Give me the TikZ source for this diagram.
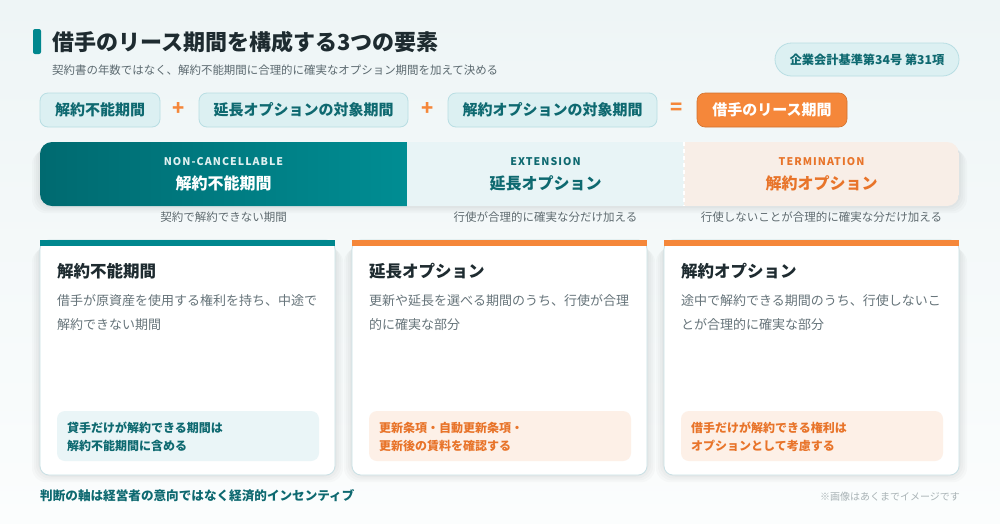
\documentclass[tikz,border=0pt]{standalone}
\usepackage{fontspec}
\setmainfont{Noto Sans CJK JP}
\newfontfamily\latinfont[LetterSpace=10]{Noto Sans CJK JP}
\definecolor{bgtop}{HTML}{EEF5F6}
\definecolor{bgbot}{HTML}{FBFDFD}
\definecolor{tealA}{HTML}{00878E}
\definecolor{tealdark}{HTML}{006A70}
\definecolor{tealbar}{HTML}{008D93}
\definecolor{tealtxt}{HTML}{0E6970}
\definecolor{titlec}{HTML}{1E2B30}
\definecolor{subc}{HTML}{5C6A70}
\definecolor{bodyc}{HTML}{66747A}
\definecolor{chipfill}{HTML}{DCF0F2}
\definecolor{chipline}{HTML}{B8DEE3}
\definecolor{orangeA}{HTML}{F5873A}
\definecolor{orangetxt}{HTML}{E8742A}
\definecolor{barlight}{HTML}{E8F4F6}
\definecolor{barorange}{HTML}{F8EEE7}
\definecolor{cardline}{HTML}{C9E0E5}
\definecolor{innerteal}{HTML}{EAF5F7}
\definecolor{innerorange}{HTML}{FDF0E7}
\definecolor{notec}{HTML}{A9B3B6}
\definecolor{undertxt}{HTML}{5E6A6F}
\begin{document}
\begin{tikzpicture}[x=1pt,y=-1pt,
  chip/.style={draw=chipline, line width=0.8pt, fill=chipfill, rounded corners=8pt,
    minimum height=34pt, inner sep=0pt, text=tealtxt, font=\fontsize{15}{18}\selectfont\bfseries},
  opchip/.style={fill=orangeA, rounded corners=8pt, draw=orangeA!85!black, line width=0.6pt,
    minimum height=34pt, inner sep=0pt, text=white, font=\fontsize{15}{18}\selectfont\bfseries},
  opsign/.style={text=orangeA, font=\fontsize{20}{22}\selectfont\bfseries, inner sep=0pt},
  barsmall/.style={font=\fontsize{10.6}{12}\selectfont\latinfont\bfseries, inner sep=0pt},
  barbig/.style={font=\fontsize{16}{19}\selectfont\bfseries, inner sep=0pt},
  undertext/.style={text=undertxt, font=\fontsize{11.5}{14}\selectfont, inner sep=0pt},
  cardtitle/.style={anchor=west, text=titlec, font=\fontsize{16.5}{20}\selectfont\bfseries, inner sep=0pt},
  cardbody/.style={anchor=west, text=bodyc, font=\fontsize{13}{16}\selectfont, inner sep=0pt},
  cardnote/.style={anchor=west, font=\fontsize{12}{15}\selectfont\bfseries, inner sep=0pt},
  cardbox/.style={draw=cardline, line width=0.8pt, fill=white, rounded corners=9pt},
  softshade/.style={fill=black, opacity=0.018, rounded corners=14pt}
]
\useasboundingbox (0,0) rectangle (1000,523);
\shade[top color=bgtop, bottom color=bgbot] (0,0) rectangle (1000,523);

% title
\fill[tealA, rounded corners=2pt] (33,29) rectangle (41,54);
\node[anchor=west, inner sep=0pt, text=titlec, font=\fontsize{22}{26}\selectfont\bfseries] (title) at (52,42.5) {借手のリース期間を構成する3つの要素};
\node[anchor=west, inner sep=0pt, text=subc, font=\fontsize{11.45}{14}\selectfont] (subtitle) at (52,70) {契約書の年数ではなく、解約不能期間に合理的に確実なオプション期間を加えて決める};

% badge
\node[draw=chipline, line width=0.8pt, fill=chipfill, rounded corners=16.5pt, minimum width=184pt, minimum height=33pt, inner sep=0pt,
  text=tealtxt, font=\fontsize{12.2}{15}\selectfont\bfseries] (badge) at (867,59.5) {企業会計基準第34号 第31項};

% formula row
\node[chip, minimum width=120pt] (f1) at (100,110) {解約不能期間};
\node[opsign] (p1) at (179,109) {+};
\node[chip, minimum width=209pt] (f2) at (303.5,110) {延長オプションの対象期間};
\node[opsign] (p2) at (428,109) {+};
\node[chip, minimum width=209pt] (f3) at (552.5,110) {解約オプションの対象期間};
\node[opsign] (eq) at (677,109) {=};
\node[opchip, minimum width=150pt] (f4) at (772,110) {借手のリース期間};

% bar shadow
\foreach \d in {2,4,6,8}{
  \fill[softshade] (40-\d,142+\d) rectangle (959+\d,206+\d*0.9);
}
\begin{scope}
  \clip[rounded corners=12pt] (40,142) rectangle (959,206);
  \shade[left color=tealdark, right color=tealbar] (40,142) rectangle (407,206);
  \fill[barlight] (407,142) rectangle (684,206);
  \fill[barorange] (684,142) rectangle (959,206);
\end{scope}
\draw[white, line width=1.3pt, dash pattern=on 4pt off 3pt] (684,142) -- (684,206);

\node[barsmall, text=white!88!tealA] (b1s) at (223.5,162) {NON-CANCELLABLE};
\node[barbig, text=white] (b1b) at (223.5,183) {解約不能期間};
\node[barsmall, text=tealtxt] (b2s) at (545.5,162) {EXTENSION};
\node[barbig, text=tealtxt] (b2b) at (545.5,183) {延長オプション};
\node[barsmall, text=orangetxt] (b3s) at (821.5,162) {TERMINATION};
\node[barbig, text=orangetxt] (b3b) at (821.5,183) {解約オプション};

\node[undertext] (u1) at (223.5,217) {契約で解約できない期間};
\node[undertext] (u2) at (545.5,217) {行使が合理的に確実な分だけ加える};
\node[undertext] (u3) at (821.5,217) {行使しないことが合理的に確実な分だけ加える};

% cards
\foreach \xa/\xb in {40/335,352/647,664/959}{
  \foreach \d in {2,4,6,8}{
    \fill[softshade] (\xa-\d,240+\d) rectangle (\xb+\d,475+\d*0.9);
  }
}
% card 1
\draw[cardbox] (40,240) rectangle (335,475);
\fill[tealA] (40,240) rectangle (335,245.5);
\node[cardtitle] (c1t) at (57,271) {解約不能期間};
\node[cardbody] (c1a) at (57,301) {借手が原資産を使用する権利を持ち、中途で};
\node[cardbody] (c1b) at (57,324.5) {解約できない期間};
\fill[innerteal, rounded corners=8pt] (57,411) rectangle (319,461);
\node[cardnote, text=tealtxt] (c1n1) at (67,428) {貸手だけが解約できる期間は};
\node[cardnote, text=tealtxt] (c1n2) at (67,446) {解約不能期間に含める};

% card 2
\draw[cardbox] (352,240) rectangle (647,475);
\fill[orangeA] (352,240) rectangle (647,245.5);
\node[cardtitle] (c2t) at (369,271) {延長オプション};
\node[cardbody] (c2a) at (369,301) {更新や延長を選べる期間のうち、行使が合理};
\node[cardbody] (c2b) at (369,324.5) {的に確実な部分};
\fill[innerorange, rounded corners=8pt] (369,411) rectangle (631,461);
\node[cardnote, text=orangetxt] (c2n1) at (379,428) {更新条項・自動更新条項・};
\node[cardnote, text=orangetxt] (c2n2) at (379,446) {更新後の賃料を確認する};

% card 3
\draw[cardbox] (664,240) rectangle (959,475);
\fill[orangeA] (664,240) rectangle (959,245.5);
\node[cardtitle] (c3t) at (681,271) {解約オプション};
\node[cardbody] (c3a) at (681,301) {途中で解約できる期間のうち、行使しないこ};
\node[cardbody] (c3b) at (681,324.5) {とが合理的に確実な部分};
\fill[innerorange, rounded corners=8pt] (681,411) rectangle (943,461);
\node[cardnote, text=orangetxt] (c3n1) at (691,428) {借手だけが解約できる権利は};
\node[cardnote, text=orangetxt] (c3n2) at (691,446) {オプションとして考慮する};

% footer
\node[anchor=west, inner sep=0pt, text=tealtxt, font=\fontsize{12.6}{16}\selectfont\bfseries] (foot) at (40,495.5) {判断の軸は経営者の意向ではなく経済的インセンティブ};
\node[anchor=east, inner sep=0pt, text=notec, font=\fontsize{10}{12}\selectfont] (note) at (960,497) {※画像はあくまでイメージです};
\end{tikzpicture}
\end{document}
